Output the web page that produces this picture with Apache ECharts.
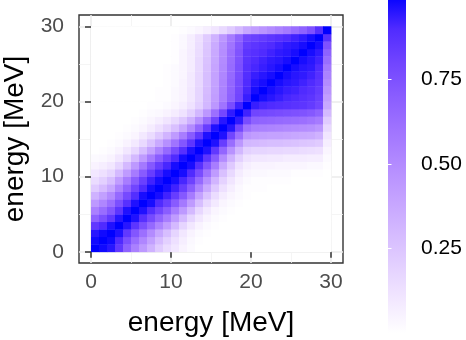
<!DOCTYPE html>
<html>
<head>
<meta charset="utf-8">
<script src="https://cdn.jsdelivr.net/npm/echarts@6/dist/echarts.min.js"></script>
<style>
  html, body { margin: 0; padding: 0; background: #fff; }
  #chart { width: 466px; height: 340px; }
</style>
</head>
<body>
<div id="chart"></div>
<script>
// lower edge of each 1 MeV energy bin
const energies = [0, 1, 2, 3, 4, 5, 6, 7, 8, 9, 10, 11, 12, 13, 14, 15, 16, 17, 18, 19,
                  20, 21, 22, 23, 24, 25, 26, 27, 28, 29];
const axisTicks = [0, 10, 20, 30];
const minorTicks = [5, 15, 25];
const scaleTicks = [0.25, 0.5, 0.75];

// correlation matrix, lower triangle (row i holds columns 0..i)
const corrLower = [
  [1],
  [0.98, 1],
  [0.95, 0.98, 1],
  [0.85, 0.9, 0.96, 1],
  [0.68, 0.76, 0.85, 0.95, 1],
  [0.55, 0.63, 0.73, 0.86, 0.96, 1],
  [0.44, 0.52, 0.62, 0.76, 0.88, 0.96, 1],
  [0.33, 0.41, 0.5, 0.65, 0.78, 0.89, 0.97, 1],
  [0.22, 0.29, 0.38, 0.53, 0.67, 0.8, 0.9, 0.97, 1],
  [0.15, 0.2, 0.28, 0.42, 0.56, 0.7, 0.82, 0.92, 0.97, 1],
  [0.1, 0.13, 0.18, 0.3, 0.43, 0.57, 0.71, 0.83, 0.92, 0.97, 1],
  [0.05, 0.07, 0.1, 0.18, 0.3, 0.44, 0.58, 0.72, 0.83, 0.91, 0.97, 1],
  [0.02, 0.03, 0.05, 0.1, 0.18, 0.3, 0.43, 0.57, 0.7, 0.81, 0.9, 0.97, 1],
  [0, 0.01, 0.02, 0.05, 0.1, 0.17, 0.28, 0.4, 0.53, 0.65, 0.77, 0.88, 0.96, 1],
  [0, 0, 0.01, 0.02, 0.05, 0.09, 0.16, 0.26, 0.37, 0.48, 0.6, 0.73, 0.86, 0.96, 1],
  [0, 0, 0, 0.01, 0.02, 0.04, 0.09, 0.15, 0.23, 0.32, 0.43, 0.56, 0.71, 0.85, 0.96, 1],
  [0, 0, 0, 0, 0.01, 0.02, 0.04, 0.08, 0.13, 0.19, 0.27, 0.37, 0.5, 0.66, 0.83, 0.96, 1],
  [0, 0, 0, 0, 0, 0.01, 0.02, 0.04, 0.07, 0.11, 0.16, 0.23, 0.33, 0.47, 0.63, 0.8, 0.95, 1],
  [0, 0, 0, 0, 0, 0, 0.01, 0.02, 0.03, 0.05, 0.08, 0.12, 0.2, 0.31, 0.45, 0.62, 0.79, 0.94, 1],
  [0, 0, 0, 0, 0, 0, 0, 0.01, 0.01, 0.02, 0.04, 0.07, 0.12, 0.2, 0.31, 0.45, 0.6, 0.77, 0.92, 1],
  [0, 0, 0, 0, 0, 0, 0, 0, 0.01, 0.01, 0.03, 0.05, 0.1, 0.18, 0.3, 0.42, 0.55, 0.68, 0.8, 0.93, 1],
  [0, 0, 0, 0, 0, 0, 0, 0, 0.01, 0.01, 0.03, 0.05, 0.1, 0.18, 0.29, 0.41, 0.54, 0.67, 0.79, 0.91, 0.97, 1],
  [0, 0, 0, 0, 0, 0, 0, 0, 0, 0.01, 0.02, 0.05, 0.09, 0.17, 0.28, 0.4, 0.53, 0.66, 0.78, 0.9, 0.95, 0.97, 1],
  [0, 0, 0, 0, 0, 0, 0, 0, 0, 0.01, 0.02, 0.04, 0.09, 0.17, 0.28, 0.4, 0.52, 0.65, 0.77, 0.89, 0.93, 0.95, 0.97, 1],
  [0, 0, 0, 0, 0, 0, 0, 0, 0, 0.01, 0.02, 0.04, 0.08, 0.16, 0.27, 0.39, 0.51, 0.64, 0.76, 0.88, 0.91, 0.93, 0.95, 0.97, 1],
  [0, 0, 0, 0, 0, 0, 0, 0, 0, 0, 0.01, 0.04, 0.08, 0.16, 0.26, 0.38, 0.5, 0.63, 0.75, 0.87, 0.9, 0.92, 0.94, 0.95, 0.97, 1],
  [0, 0, 0, 0, 0, 0, 0, 0, 0, 0, 0.01, 0.04, 0.08, 0.15, 0.25, 0.37, 0.49, 0.62, 0.74, 0.86, 0.88, 0.9, 0.92, 0.94, 0.95, 0.97, 1],
  [0, 0, 0, 0, 0, 0, 0, 0, 0, 0, 0.01, 0.03, 0.07, 0.14, 0.24, 0.36, 0.48, 0.6, 0.72, 0.84, 0.86, 0.88, 0.9, 0.92, 0.94, 0.95, 0.97, 1],
  [0, 0, 0, 0, 0, 0, 0, 0, 0, 0, 0.01, 0.03, 0.07, 0.13, 0.22, 0.33, 0.45, 0.57, 0.68, 0.8, 0.82, 0.84, 0.86, 0.88, 0.9, 0.92, 0.94, 0.97, 1],
  [0, 0, 0, 0, 0, 0, 0, 0, 0, 0, 0, 0.01, 0.02, 0.04, 0.07, 0.11, 0.16, 0.22, 0.3, 0.38, 0.42, 0.46, 0.5, 0.54, 0.58, 0.63, 0.68, 0.75, 0.88, 1]
];

// white -> blue, mixed in Lab space like ggplot's gradient
function labToHex(L, a, b) {
  const fy = (L + 16) / 116, fx = fy + a / 500, fz = fy - b / 200;
  const inv = t => (t > 0.206893 ? t * t * t : (t - 16 / 116) / 7.787);
  const X = 0.95047 * inv(fx), Y = inv(fy), Z = 1.08883 * inv(fz);
  const lin = [
    3.2404542 * X - 1.5371385 * Y - 0.4985314 * Z,
    -0.969266 * X + 1.8760108 * Y + 0.041556 * Z,
    0.0556434 * X - 0.2040259 * Y + 1.0572252 * Z
  ];
  return '#' + lin.map(c => {
    c = c <= 0.0031308 ? 12.92 * c : 1.055 * Math.pow(c, 1 / 2.4) - 0.055;
    c = Math.round(Math.min(1, Math.max(0, c)) * 255);
    return (c < 16 ? '0' : '') + c.toString(16);
  }).join('');
}
const rampColors = [];
for (let k = 0; k <= 10; k++) {
  const t = k / 10;
  rampColors.push(labToHex(100 + t * (32.3 - 100), t * 79.19, t * -107.86));
}

const cells = [];
energies.forEach((ex, i) => {
  energies.forEach((ey, j) => {
    const v = i >= j ? corrLower[i][j] : corrLower[j][i];
    cells.push([ex, ey, v]);
  });
});

const font = '"Liberation Sans", Arial, sans-serif';
const chart = echarts.init(document.getElementById('chart'));

chart.setOption({
  animation: false,
  backgroundColor: '#fff',
  grid: [
    {
      left: 79, top: 15, width: 264, height: 248, containLabel: false, outerBoundsMode: 'none',
      show: true, borderColor: '#333', borderWidth: 1.4, backgroundColor: '#fff'
    },
    { left: 388, top: -5, width: 18, height: 338, containLabel: false, outerBoundsMode: 'none' }
  ],
  visualMap: {
    type: 'continuous',
    show: false,
    min: 0,
    max: 1,
    dimension: 2,
    seriesIndex: 0,
    inRange: { color: rampColors }
  },
  // colour bar of the legend, same ramp as the visualMap
  graphic: [{
    type: 'rect',
    z: 1,
    shape: { x: 388, y: -5, width: 18, height: 338 },
    style: {
      fill: new echarts.graphic.LinearGradient(0, 1, 0, 0,
        rampColors.map((c, k) => ({ offset: k / (rampColors.length - 1), color: c })))
    }
  }],
  xAxis: [
    {
      type: 'value', gridIndex: 0, min: -1.5, max: 31.5,
      name: 'energy [MeV]', nameLocation: 'middle', nameGap: 46,
      nameTextStyle: { fontSize: 28, color: '#000', fontFamily: font },
      axisLine: { show: false },
      axisTick: { show: true, customValues: axisTicks, length: 6, lineStyle: { color: '#333', width: 1.5 } },
      axisLabel: { customValues: axisTicks, margin: 9, fontSize: 21, color: '#4d4d4d', fontFamily: font },
      splitLine: { show: true, lineStyle: { color: '#ebebeb', width: 1.6 } }
    },
    {
      type: 'value', gridIndex: 0, min: -1.5, max: 31.5, position: 'bottom',
      axisLine: { show: false },
      axisTick: { show: false, customValues: minorTicks },
      axisLabel: { show: false, customValues: minorTicks },
      splitLine: { show: true, lineStyle: { color: '#f2f2f2', width: 0.8 } }
    },
    { type: 'value', gridIndex: 1, show: false }
  ],
  yAxis: [
    {
      type: 'value', gridIndex: 0, min: -1.5, max: 31.5,
      name: 'energy [MeV]', nameLocation: 'middle', nameGap: 44,
      nameTextStyle: { fontSize: 28, color: '#000', fontFamily: font },
      axisLine: { show: false },
      axisTick: { show: true, customValues: axisTicks, length: 6, lineStyle: { color: '#333', width: 1.5 } },
      axisLabel: { customValues: axisTicks, margin: 15, fontSize: 21, color: '#4d4d4d', fontFamily: font },
      splitLine: { show: true, lineStyle: { color: '#ebebeb', width: 1.6 } }
    },
    {
      type: 'value', gridIndex: 0, min: -1.5, max: 31.5, position: 'left',
      axisLine: { show: false },
      axisTick: { show: false, customValues: minorTicks },
      axisLabel: { show: false, customValues: minorTicks },
      splitLine: { show: true, lineStyle: { color: '#f2f2f2', width: 0.8 } }
    },
    {
      type: 'value', gridIndex: 1, min: 0, max: 1, position: 'right', z: 10,
      axisLine: { show: false },
      axisTick: { show: true, inside: true, customValues: scaleTicks, length: 3.5, lineStyle: { color: '#fff', width: 1 } },
      axisLabel: {
        customValues: scaleTicks, margin: 15, fontSize: 21, color: '#000', fontFamily: font,
        formatter: v => v.toFixed(2)
      },
      splitLine: { show: false }
    },
    {
      type: 'value', gridIndex: 1, min: 0, max: 1, position: 'left', z: 10,
      axisLine: { show: false },
      axisTick: { show: true, inside: true, customValues: scaleTicks, length: 3.5, lineStyle: { color: '#fff', width: 1 } },
      axisLabel: { show: false },
      splitLine: { show: false }
    }
  ],
  series: [{
    type: 'custom',
    xAxisIndex: 0,
    yAxisIndex: 0,
    data: cells,
    renderItem: function (params, api) {
      const x = api.value(0), y = api.value(1);
      const p0 = api.coord([x, y + 1]);
      const p1 = api.coord([x + 1, y]);
      return {
        type: 'rect',
        shape: { x: p0[0], y: p0[1], width: p1[0] - p0[0] + 0.4, height: p1[1] - p0[1] + 0.4 },
        style: { fill: api.visual('color') }
      };
    }
  }]
});
</script>
</body>
</html>
